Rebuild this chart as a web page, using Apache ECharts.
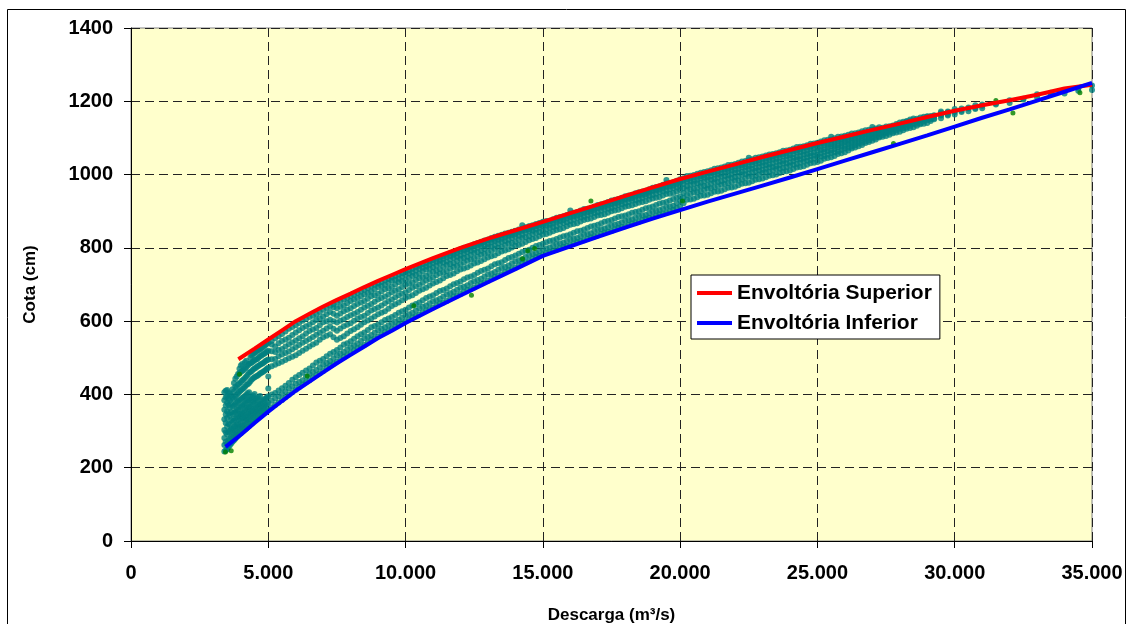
<!DOCTYPE html>
<html>
<head>
<meta charset="utf-8">
<script src="https://cdn.jsdelivr.net/npm/echarts@6/dist/echarts.min.js"></script>
<style>
html,body{margin:0;padding:0;background:#fff;}
#chart{width:1128px;height:624px;}
</style>
</head>
<body>
<div id="chart"></div>
<script>
// Axis ticks
const xTicks = [0, 5000, 10000, 15000, 20000, 25000, 30000, 35000];
const yTicks = [0, 200, 400, 600, 800, 1000, 1200, 1400];

// Envoltória Superior (red)
const redX = [3910,4500,5000,5500,6000,6500,7000,7500,8000,8500,9000,9500,10000,11000,12000,13000,14000,15000,16000,17000,18000,19000,20000,21000,22000,23000,24000,25000,26000,27000,28000,29000,30000,31000,32000,33000,34000,35000];
const redY = [496,525,550,575,600,620,640,658,675,693,710,726,742,772,800,825,848,871,895,918,942,965,988,1008,1028,1048,1067,1086,1104,1122,1139,1157,1174,1189,1203,1218,1235,1245];

// Envoltória Inferior (blue)
const blueX = [3444,4000,4500,5000,5500,6000,6500,7000,7500,8000,8500,9000,9500,10000,11000,12000,13000,14000,15000,16000,17000,18000,19000,20000,21000,22000,23000,24000,25000,26000,27000,28000,29000,30000,31000,32000,33000,34000,35000];
const blueY = [257,290,322,353,382,410,435,460,485,508,531,554,574,595,633,670,706,742,778,804,830,855,880,903,926,948,970,992,1015,1038,1061,1084,1107,1131,1155,1178,1202,1226,1250];

// Observed points: each entry = [discharge, cota, cota, ...]
const lowFlowDots = [
 [3400,244,262,281,303,332,358,384,406],
 [3450,248,271,296,322,345,370,392,410],
 [3500,250,266,291,312,336,354,377,396,412],
 [3550,256,275,297,320,348,371,389,405],
 [3600,261,279,301,317,341,363,383,401],
 [3650,266,284,304,330,352,376,398],
 [3700,271,289,307,326,346,367,391,414],
 [3750,275,293,312,329,350,369,388,408,431],
 [3800,279,297,314,334,353,373,394,421,443],
 [3850,284,300,318,337,357,378,399,418,449],
 [3900,287,306,321,341,359,381,403,427,456],
 [3950,291,309,328,345,364,384,407,430,458,470],
 [4000,294,313,331,347,367,387,411,433,461,479],
 [4050,298,315,334,351,370,390,414,438,464,483],
 [4100,301,317,337,354,373,393,417,441,467],
 [4150,304,323,340,358,377,396,421,445,471,488],
 [4200,307,327,343,363,381,399,426,449,474,492],
 [4250,311,330,347,365,384,403,428,454,479],
 [4300,314,333,351,367,387,406,431,459,483],
 [4350,318,337,354,372,390,436,461,485,501],
 [4400,321,341,357,376,394,441,464,487,506],
 [4450,325,344,360,379,397,444,468,490,510],
 [4500,329,347,363,383,401,447,471,493,513],
 [4550,332,350,367,386,449,473,495,516],
 [4600,335,353,371,389,451,476,497,519],
 [4650,338,356,373,392,454,478,501,521],
 [4700,341,359,375,396,457,481,504,523],
 [4750,344,362,379,459,483,506,526],
 [4800,347,365,383,461,485,509,529],
 [4850,350,368,386,464,488,511,532],
 [4900,353,371,389,467,491,514,535],
 [4950,356,374,392,470,493,517,538],
 [5000,359,377,395,416,449,473,495,519,541]
];
const midFlowDots = [
 [5125,365,383,400,477,496,518,536,546],
 [5250,371,389,404,481,497,516,531,553],
 [5375,378,395,411,485,504,521,540,559],
 [5500,385,401,417,489,509,524,546,565],
 [5625,392,408,424,494,513,531,550,572],
 [5750,399,416,431,499,517,537,555,579],
 [5875,406,422,440,503,523,542,562,584],
 [6000,413,429,447,507,529,547,569,589],
 [6125,420,434,453,513,535,553,575,595],
 [6250,427,439,459,519,541,559,581,601],
 [6375,433,448,465,525,546,566,586,606],
 [6500,439,456,471,531,551,573,591,611],
 [6625,446,461,479,536,557,577,597,615],
 [6750,453,467,487,541,563,581,603,619],
 [6875,458,474,492,549,568,589,608,625],
 [7000,464,481,497,556,574,597,613,631],
 [7125,472,486,504,560,580,600,619,636],
 [7250,479,491,511,564,586,604,625,641],
 [7375,484,499,516,556,579,600,620,638,646],
 [7500,489,506,521,549,574,596,615,635,651],
 [7625,496,511,528,554,580,601,621,639,655],
 [7750,503,516,536,559,586,605,627,643,659],
 [7875,508,523,540,566,590,611,631,649,663],
 [8000,513,529,545,573,594,616,635,655,668],
 [8125,520,534,552,578,601,620,641,659,672],
 [8250,526,539,559,583,607,625,647,663,677],
 [8375,530,546,564,590,611,631,651,668,681],
 [8500,535,553,569,597,615,637,655,673,686],
 [8625,542,557,576,602,622,642,661,677,690],
 [8750,549,562,583,607,629,647,668,681,695],
 [8875,553,569,587,613,633,653,671,687,699],
 [9000,558,575,591,619,637,659,675,693,703],
 [9125,564,579,597,623,643,663,681,696,707],
 [9250,570,583,603,627,649,667,687,699,711],
 [9375,574,589,607,634,654,673,690,705,715],
 [9500,579,595,611,641,659,679,694,710,719],
 [9625,585,599,617,646,665,683,700,713,723],
 [9750,591,604,623,651,671,687,706,716,727],
 [9875,595,610,627,657,675,693,709,722,731],
 [10000,599,615,631,663,679,699,713,727,735],
 [10125,604,619,637,667,685,702,718,730,739],
 [10250,610,623,643,671,691,706,723,733,743],
 [10375,614,629,647,677,695,712,726,738,747],
 [10500,618,635,651,683,699,717,730,743,751],
 [10625,624,639,657,687,705,720,736,746,755],
 [10750,629,643,663,691,711,724,741,749,759],
 [10875,633,649,667,697,715,730,744,754,763],
 [11000,637,654,671,703,719,735,747,759,767],
 [11125,643,657,677,707,725,738,752,762,770],
 [11250,648,661,682,711,730,742,757,765,774],
 [11375,651,667,685,717,733,748,760,770,777],
 [11500,655,673,689,723,737,753,763,775,781],
 [11625,661,676,695,726,743,756,768,778,785],
 [11750,667,680,701,730,748,759,773,781,789],
 [11875,670,686,704,736,751,765,776,786,792],
 [12000,674,691,708,741,755,770,779,791,796],
 [12125,680,694,714,744,760,773,784,793,800],
 [12250,685,698,719,747,765,776,789,796,803],
 [12375,688,704,722,752,768,781,792,801,806],
 [12500,692,709,726,757,771,786,795,805,810],
 [12625,698,712,732,760,776,789,800,808,813],
 [12750,703,716,737,764,781,792,805,811,817],
 [12875,706,722,740,769,784,797,807,816,820],
 [13000,710,727,744,774,787,802,810,820,823],
 [13125,716,730,750,777,792,804,815,822,827],
 [13250,721,734,755,780,797,807,819,825,830],
 [13375,724,740,758,785,800,812,822,829,833],
 [13500,728,745,761,790,803,817,825,833,836],
 [13625,734,748,767,793,808,819,829,835,839],
 [13750,739,752,772,796,812,822,833,837,841],
 [13875,742,758,775,801,814,827,835,842,844],
 [14000,746,763,779,806,817,831,838,846,847],
 [14125,752,766,784,808,822,833,843,848,850],
 [14250,757,769,789,811,827,836,847,850,853,862],
 [14375,760,775,792,816,829,841,849,855,856],
 [14500,764,780,795,821,832,845,851,858,859],
 [14625,770,783,800,824,837,847,855,859,862],
 [14750,775,786,805,827,841,850,859,861,865],
 [14875,778,791,808,832,843,855,861,866,868],
 [15000,782,796,811,836,846,859,864,869,871],
 [15125,786,798,815,838,851,861,868,873],
 [15250,790,801,819,841,855,863,872,874],
 [15375,792,806,821,845,857,867,874,878],
 [15500,795,810,824,849,859,871,876,882],
 [15625,799,812,828,851,864,873,880,884],
 [15750,803,814,832,854,868,876,884,886],
 [15875,805,819,834,859,870,880,886,890],
 [16000,808,823,837,863,873,884,888,894,902],
 [16125,812,825,841,865,877,886,892,896],
 [16250,816,827,845,867,881,888,896,898],
 [16375,818,832,847,872,883,892,898,902],
 [16500,821,836,850,876,885,896,900,906],
 [16625,825,838,854,878,889,898,904,907],
 [16750,829,840,858,880,893,900,907,909],
 [16875,831,845,860,884,895,904,909,913],
 [17000,834,849,863,888,897,908,911,917],
 [17125,838,851,867,890,901,910,915,919],
 [17250,842,853,871,892,905,912,919,921],
 [17375,844,857,873,896,907,916,921,925],
 [17500,846,861,876,900,909,920,923,929],
 [17625,851,863,880,902,913,922,927,931],
 [17750,855,866,884,904,917,924,931,933],
 [17875,857,870,886,908,919,928,933,937],
 [18000,859,874,888,912,921,932,935,941],
 [18125,863,876,892,914,925,934,939,943],
 [18250,867,878,896,916,929,936,943,945],
 [18375,869,882,898,920,930,940,944,949],
 [18500,871,886,900,923,932,943,946,952],
 [18625,876,888,904,925,936,945,950,954],
 [18750,880,890,908,927,940,947,954,956],
 [18875,882,895,910,931,942,951,956,960],
 [19000,884,899,913,935,944,955,958,964],
 [19125,888,901,917,937,948,957,962,966],
 [19250,892,903,921,939,952,959,966,968],
 [19375,894,907,923,943,954,963,968,972],
 [19500,896,911,925,947,956,967,970,976,985],
 [19625,900,913,929,948,960,968,974,977],
 [19750,904,915,933,950,963,970,977,979],
 [19875,909,922,937,954,965,974,979,983],
 [20000,914,929,941,958,967,978,981,987]
];
const highFlowDots = [
 [20125,922,937,950,963,974,983,990],
 [20250,931,944,959,969,981,987,996],
 [20375,932,947,960,972,982,990,997],
 [20500,934,951,961,975,983,993,999],
 [20625,938,952,964,976,986,994,1002],
 [20750,942,954,968,978,990,996,1005],
 [20875,943,958,969,981,991,999,1007],
 [21000,945,961,971,985,993,1003,1009],
 [21125,949,963,975,986,996,1004,1012],
 [21250,953,965,979,988,1000,1006,1016],
 [21375,954,968,980,991,1001,1009,1017],
 [21500,956,972,982,995,1003,1013,1019],
 [21625,960,974,985,996,1006,1014,1022],
 [21750,964,976,989,998,1010,1016,1026],
 [21875,965,979,991,1001,1011,1019,1027],
 [22000,967,983,993,1005,1013,1023,1029],
 [22125,971,984,996,1006,1016,1024,1032],
 [22250,975,986,1000,1008,1020,1026,1036],
 [22375,976,990,1001,1011,1021,1029,1037],
 [22500,978,994,1003,1015,1023,1033,1039,1046],
 [22625,982,995,1006,1016,1026,1034,1042],
 [22750,986,997,1010,1018,1030,1036,1046],
 [22875,987,1000,1011,1021,1031,1039,1047],
 [23000,989,1004,1013,1025,1033,1043,1049],
 [23125,993,1006,1016,1026,1036,1044,1052],
 [23250,997,1008,1020,1028,1040,1046,1055],
 [23375,998,1011,1021,1031,1041,1049,1056],
 [23500,1000,1015,1023,1035,1043,1053,1058],
 [23625,1004,1016,1026,1036,1046,1054,1061],
 [23750,1008,1018,1030,1038,1050,1056,1065],
 [23875,1009,1021,1031,1041,1051,1059,1066],
 [24000,1011,1025,1033,1045,1053,1063,1068],
 [24125,1015,1027,1037,1046,1056,1064,1071],
 [24250,1019,1029,1041,1048,1060,1066,1075],
 [24375,1021,1032,1042,1051,1061,1069,1076],
 [24500,1023,1036,1044,1055,1063,1073,1077],
 [24625,1027,1038,1047,1056,1066,1074,1080],
 [24750,1031,1040,1051,1058,1070,1076,1084],
 [24875,1032,1043,1052,1061,1071,1079,1085],
 [25000,1034,1047,1054,1065,1073,1083,1087],
 [25125,1038,1049,1058,1067,1076,1084,1090],
 [25250,1043,1051,1062,1069,1080,1086,1094],
 [25375,1045,1055,1064,1073,1081,1089,1095],
 [25500,1047,1059,1066,1077,1083,1093,1096,1103],
 [25625,1051,1061,1070,1078,1086,1094,1099],
 [25750,1056,1063,1074,1080,1090,1096,1103],
 [25875,1058,1067,1076,1084,1091,1099,1104],
 [26000,1061,1071,1078,1088,1093,1102,1106],
 [26125,1066,1073,1082,1089,1096,1103,1109],
 [26250,1071,1076,1086,1091,1100,1105,1112],
 [26375,1074,1080,1088,1095,1101,1108,1113],
 [26500,1077,1085,1090,1099,1103,1111,1115],
 [26625,1081,1087,1094,1100,1106,1112,1118],
 [26750,1086,1090,1098,1102,1110,1114,1121],
 [26875,1089,1094,1100,1106,1111,1117,1122],
 [27000,1092,1099,1103,1110,1113,1120,1123,1130],
 [27125,1096,1101,1107,1112,1117,1122,1126],
 [27250,1101,1104,1111,1114,1121,1124,1129],
 [27375,1103,1108,1113,1118,1122,1128],
 [27500,1105,1113,1116,1122,1124,1131],
 [27625,1109,1115,1120,1124,1128,1132],
 [27750,1113,1117,1124,1126,1132,1134],
 [27875,1115,1121,1126,1130,1134,1138],
 [28000,1117,1125,1128,1134,1136,1142],
 [28125,1121,1127,1132,1136,1140,1144],
 [28250,1125,1129,1136,1138,1144,1146],
 [28375,1127,1133,1138,1142,1146,1150],
 [28500,1129,1137,1140,1146,1148,1153],
 [28625,1133,1139,1144,1148,1152],
 [28750,1137,1141,1148,1150,1156],
 [28875,1139,1145,1150,1154,1158],
 [29000,1141,1149,1152,1158,1159],
 [29125,1146,1151,1156,1160],
 [29250,1151,1154,1160,1162],
 [29500,1154,1161,1163,1169,1172],
 [29750,1161,1164,1170,1172],
 [30000,1164,1171,1173,1179],
 [30250,1171,1174,1180],
 [30500,1173,1180,1183],
 [30750,1179,1182,1189],
 [31000,1181,1188,1191],
 [31500,1191,1194],
 [32000,1195,1203],
 [32500,1205,1207],
 [33000,1211,1219],
 [33500,1219,1223],
 [34000,1221,1231],
 [34500,1229,1235],
 [35000,1231,1243]
];
// a few darker green observations
const greenDots = [[3440,243],[3650,246],[3950,455],[6420,450],[10300,642],[12400,671],[14260,770],[14450,792],[14700,798],[16750,928],[20090,928],[27770,1085],[31500,1202],[32120,1168],[34560,1223]];

function expand(groups){
  const out = [];
  groups.forEach(g => { for (let i = 1; i < g.length; i++) out.push([g[0], g[i]]); });
  return out;
}
const dotData = expand(lowFlowDots).concat(expand(midFlowDots), expand(highFlowDots));
const zip = (xs, ys) => xs.map((x, i) => [x, ys[i]]);

const FONT = '"Liberation Sans", Arial, sans-serif';
const fmtX = v => String(v).replace(/\B(?=(\d{3})+(?!\d))/g, '.');
const fmtY = v => String(v);

const chart = echarts.init(document.getElementById('chart'), null, {renderer: 'canvas'});
chart.setOption({
  animation: false,
  backgroundColor: '#ffffff',
  graphic: [{
    type: 'rect', silent: true, z: -10,
    shape: {x: 7.5, y: 9.5, width: 1118, height: 630},
    style: {fill: 'none', stroke: '#000', lineWidth: 1}
  }],
  grid: {
    left: 131, right: 36, top: 28, bottom: 83,
    containLabel: false, outerBoundsMode: 'none',
    show: true, backgroundColor: '#FFFFCC', borderColor: '#808080', borderWidth: 1
  },
  legend: {
    orient: 'vertical', left: 691, top: 275,
    data: ['Envoltória Superior', 'Envoltória Inferior'],
    icon: 'rect', itemWidth: 35, itemHeight: 4, itemGap: 6,
    backgroundColor: '#ffffff', borderColor: '#000', borderWidth: 1,
    padding: [6, 8, 4, 6],
    textStyle: {fontFamily: FONT, fontWeight: 'bold', fontSize: 21, color: '#000', lineHeight: 24}
  },
  xAxis: {
    type: 'value', min: xTicks[0], max: xTicks[xTicks.length - 1], interval: 5000,
    name: 'Descarga (m³/s)', nameLocation: 'middle', nameGap: 66,
    nameTextStyle: {fontFamily: FONT, fontWeight: 'bold', fontSize: 17, color: '#000'},
    axisLine: {lineStyle: {color: '#000', width: 1}},
    axisTick: {show: true, length: 7, inside: false, lineStyle: {color: '#000'}},
    axisLabel: {formatter: fmtX, margin: 22, fontFamily: FONT, fontWeight: 'bold', fontSize: 20, color: '#000'},
    splitLine: {show: true, lineStyle: {color: '#222', type: [9, 5], width: 1}}
  },
  yAxis: {
    type: 'value', min: yTicks[0], max: yTicks[yTicks.length - 1], interval: 200,
    name: 'Cota (cm)', nameLocation: 'middle', nameGap: 92, nameRotate: 90,
    nameTextStyle: {fontFamily: FONT, fontWeight: 'bold', fontSize: 17, color: '#000'},
    axisLine: {show: true, lineStyle: {color: '#000', width: 1}},
    axisTick: {show: true, length: 7, inside: false, lineStyle: {color: '#000'}},
    axisLabel: {formatter: fmtY, margin: 18, fontFamily: FONT, fontWeight: 'bold', fontSize: 20, color: '#000'},
    splitLine: {show: true, lineStyle: {color: '#222', type: [9, 5], width: 1}}
  },
  series: [
    {
      name: 'Observados', type: 'scatter', data: dotData, symbol: 'circle', symbolSize: 6,
      itemStyle: {color: '#008080'}, z: 2, silent: true, large: false
    },
    {
      name: 'Observados 2', type: 'scatter', data: greenDots, symbol: 'circle', symbolSize: 5,
      itemStyle: {color: '#008000'}, z: 3, silent: true
    },
    {
      name: 'Envoltória Superior', type: 'line', data: zip(redX, redY), showSymbol: false,
      lineStyle: {color: '#FF0000', width: 4}, itemStyle: {color: '#FF0000'}, z: 5
    },
    {
      name: 'Envoltória Inferior', type: 'line', data: zip(blueX, blueY), showSymbol: false,
      lineStyle: {color: '#0000FF', width: 4}, itemStyle: {color: '#0000FF'}, z: 5
    }
  ]
});
</script>
</body>
</html>
